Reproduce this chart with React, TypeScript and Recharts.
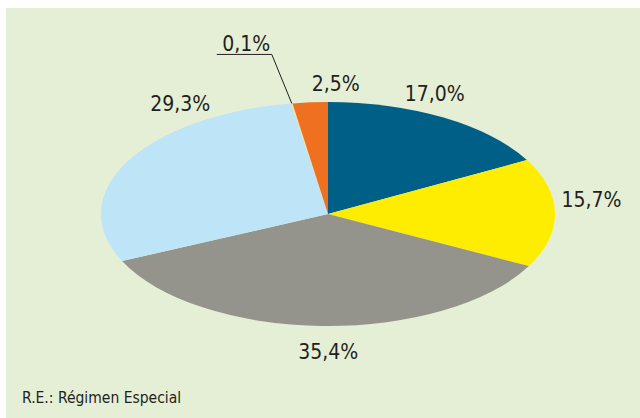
import { Pie, PieChart, Cell } from "recharts";

const sectors = ["17,0", "15,7", "35,4", "29,3", "0,1", "2,5"];
const shares = [17.0, 15.7, 35.4, 29.3, 0.1, 2.5];
const sliceColors = ["#005f87", "#ffed00", "#94948c", "#bde4f7", "#f9dfa0", "#f07022"];
const footnote = "R.E.: Régimen Especial";

const data = sectors.map((name, i) => ({ name, value: shares[i] }));

// chart geometry: the pie is drawn as a circle and stretched horizontally
const CX = 328;
const CY = 214;
const RY = 112;
const STRETCH = 227 / 112;
const RAD = Math.PI / 180;
const LABEL_K = 1.2;
const FONT = "'DejaVu Sans Condensed', 'Liberation Sans Narrow', sans-serif";
const LABEL_SIZE = 21;

// hand placement of labels, as in the original layout
const labelNudge: Record<number, [number, number]> = {
  0: [-32, -4],
  1: [-9, -13],
  2: [7, 4],
  3: [93, -47],
  5: [29, 4],
};

function ellipsePoint(cx: number, cy: number, angle: number, k: number) {
  return {
    x: cx + RY * STRETCH * k * Math.cos(-angle * RAD),
    y: cy + RY * k * Math.sin(-angle * RAD),
  };
}

function renderLabel(props: any) {
  const { cx, cy, midAngle, index, value } = props;
  const text = value.toFixed(1).replace(".", ",") + "%";
  if (value < 0.5) {
    // tiny slice gets a leader line
    const edge = ellipsePoint(cx, cy, midAngle, 1);
    const elbow = { x: edge.x - 20, y: edge.y - 49 };
    const end = { x: elbow.x - 55, y: elbow.y };
    return (
      <g>
        <polyline
          points={`${edge.x},${edge.y} ${elbow.x},${elbow.y} ${end.x},${end.y}`}
          fill="none"
          stroke="#231f20"
          strokeWidth={1}
        />
        <text
          x={(elbow.x + end.x) / 2 + 2}
          y={elbow.y - 10}
          textAnchor="middle"
          dominantBaseline="central"
          fill="#231f20"
          fontSize={LABEL_SIZE}
          fontFamily={FONT}
        >
          {text}
        </text>
      </g>
    );
  }
  const p = ellipsePoint(cx, cy, midAngle, LABEL_K);
  const [dx, dy] = labelNudge[index] ?? [0, 0];
  return (
    <text
      x={p.x + dx}
      y={p.y + dy}
      textAnchor="middle"
      dominantBaseline="central"
      fill="#231f20"
      fontSize={LABEL_SIZE}
      fontFamily={FONT}
    >
      {text}
    </text>
  );
}

export default function App() {
  return (
    <div style={{ position: "relative", width: 640, height: 418, background: "#fff" }}>
      <style>{`
        body { margin: 0; }
        .recharts-pie-sector { transform-origin: ${CX}px ${CY}px; transform: scaleX(${STRETCH}); }
      `}</style>
      <div
        style={{
          position: "absolute",
          left: 6,
          top: 8,
          width: 634,
          height: 410,
          background: "#e5efd6",
        }}
      />
      <div style={{ position: "absolute", left: 0, top: 0 }}>
        <PieChart width={640} height={418} margin={{ top: 0, right: 0, bottom: 0, left: 0 }}>
          <Pie
            data={data}
            dataKey="value"
            nameKey="name"
            cx={CX}
            cy={CY}
            outerRadius={RY}
            startAngle={90}
            endAngle={-270}
            stroke="none"
            label={renderLabel}
            labelLine={false}
            isAnimationActive={false}
          >
            {data.map((d, i) => (
              <Cell key={d.name} fill={sliceColors[i]} />
            ))}
          </Pie>
          <text x={22} y={403} fill="#231f20" fontSize={15.5} fontFamily={FONT}>
            {footnote}
          </text>
        </PieChart>
      </div>
    </div>
  );
}
